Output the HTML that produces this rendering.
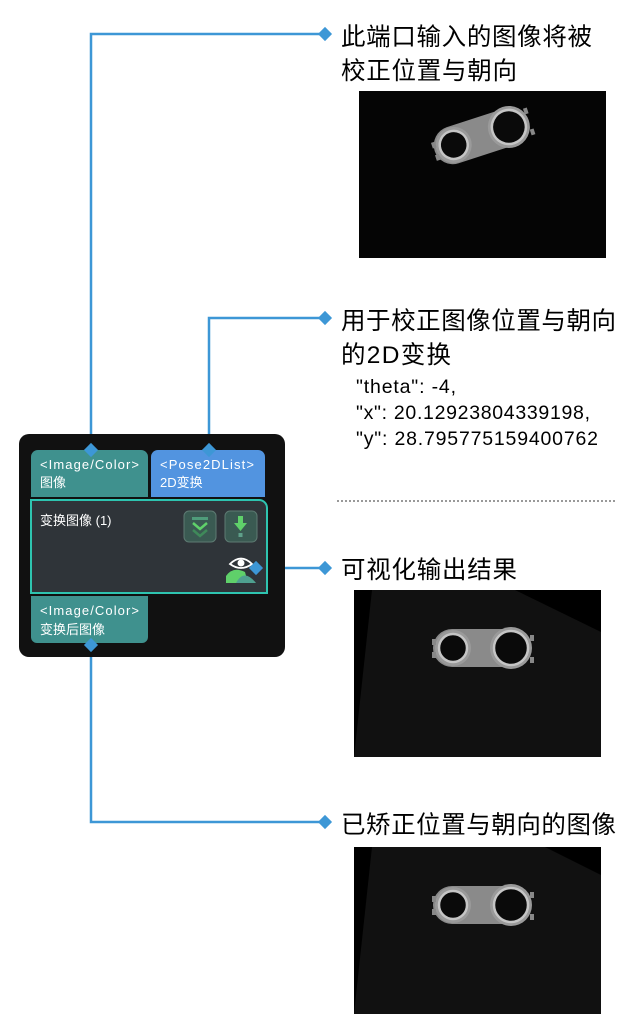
<!DOCTYPE html>
<html><head><meta charset="utf-8"><style>
body{margin:0;background:#fff;}
svg{display:block}
.h{font-family:"Liberation Sans","Noto Sans CJK SC",sans-serif;font-size:24.5px;fill:#000}
.j{font-family:"Liberation Sans","Noto Sans CJK SC",sans-serif;font-size:19.5px;fill:#000}
.p{font-family:"Liberation Sans","Noto Sans CJK SC",sans-serif;font-size:13px;fill:#fff}
</style></head><body>
<svg width="635" height="1035" viewBox="0 0 635 1035" xmlns="http://www.w3.org/2000/svg">
<defs>
<g id="part">
<path d="M-30,-18 L30,-18 A20,20 0 0 1 30,20 L-30,20 A19,19 0 0 1 -30,-18 Z" fill="#8a8a8a"/>
<circle cx="-29" cy="1" r="18" fill="#9a9a9a"/>
<circle cx="29" cy="1" r="21" fill="#9a9a9a"/>
<circle cx="-29" cy="1" r="14" fill="#0a0a0a" stroke="#c5c5c5" stroke-width="2.5"/>
<circle cx="29" cy="1" r="17" fill="#0a0a0a" stroke="#c5c5c5" stroke-width="2.5"/>
<rect x="-50" y="-8" width="4" height="6" fill="#888"/><rect x="-50" y="5" width="4" height="6" fill="#888"/>
<rect x="48" y="-12" width="4" height="6" fill="#888"/><rect x="48" y="10" width="4" height="6" fill="#888"/>
</g>
</defs>

<rect x="359" y="91" width="247" height="167" fill="#050505"/>
<use href="#part" transform="translate(481,135) rotate(-18)"/>
<rect x="354" y="590" width="247" height="167" fill="#000"/>
<polygon points="372,590 515,590 601,632 601,757 354,757" fill="#111"/>
<use href="#part" transform="translate(482,647)"/>
<rect x="354" y="847" width="247" height="167" fill="#000"/>
<polygon points="372,847 545,847 601,875 601,1014 354,1014" fill="#111"/>
<use href="#part" transform="translate(482,904)"/>

<g stroke="#3d97d6" stroke-width="2.5" fill="none">
<polyline points="91,450 91,34 325,34"/>
<polyline points="209,450 209,318 325,318"/>
<polyline points="258,568 325,568"/>
<polyline points="91,645 91,822 325,822"/>
</g>
<g fill="#3d97d6">
<rect x="320" y="29" width="10" height="10" transform="rotate(45 325 34)"/>
<rect x="320" y="313" width="10" height="10" transform="rotate(45 325 318)"/>
<rect x="320" y="563" width="10" height="10" transform="rotate(45 325 568)"/>
<rect x="320" y="817" width="10" height="10" transform="rotate(45 325 822)"/>
<rect x="86" y="445" width="10" height="10" transform="rotate(45 91 450)"/>
<rect x="204" y="445" width="10" height="10" transform="rotate(45 209 450)"/>
<rect x="86" y="640" width="10" height="10" transform="rotate(45 91 645)"/>
<rect x="251" y="563" width="10" height="10" transform="rotate(45 256 568)"/>
</g>

<rect x="19" y="434" width="266" height="223" rx="10" fill="#111"/>
<path d="M31,497 V457 a7,7 0 0 1 7,-7 H141 a7,7 0 0 1 7,7 V497 Z" fill="#3f918e"/>
<path d="M151,497 V457 a7,7 0 0 1 7,-7 H258 a7,7 0 0 1 7,7 V497 Z" fill="#5294e0"/>
<path d="M31,500 H259 a8,8 0 0 1 8,8 V593 H31 Z" fill="#2f3439" stroke="#2ec4b0" stroke-width="2"/>
<path d="M31,596 H148 V637 a6,6 0 0 1 -6,6 H37 a6,6 0 0 1 -6,-6 Z" fill="#3f918e"/>
<g fill="#3d97d6">
<rect x="86" y="445" width="10" height="10" transform="rotate(45 91 450)"/>
<rect x="204" y="445" width="10" height="10" transform="rotate(45 209 450)"/>
<rect x="86" y="640" width="10" height="10" transform="rotate(45 91 645)"/>
</g>
<text class="p" x="40" y="469" textLength="99">&lt;Image/Color&gt;</text>
<text class="p" x="40" y="487">图像</text>
<text class="p" x="160" y="469" textLength="94">&lt;Pose2DList&gt;</text>
<text class="p" x="160" y="487">2D变换</text>
<text class="p" x="40" y="525">变换图像 (1)</text>
<text class="p" x="40" y="615" textLength="99">&lt;Image/Color&gt;</text>
<text class="p" x="40" y="634">变换后图像</text>
<rect x="184" y="511" width="32" height="31" rx="5" fill="#3a5a52" stroke="#5d7a72"/>
<rect x="192" y="517" width="16" height="3" fill="#4f9c7a"/>
<polyline points="193,523 200,529 207,523" stroke="#5fd06a" stroke-width="2.5" fill="none"/>
<polyline points="193,530 200,536 207,530" stroke="#3f8a5a" stroke-width="2.5" fill="none"/>
<rect x="225" y="511" width="32" height="31" rx="5" fill="#3a5a52" stroke="#5d7a72"/>
<rect x="238" y="516" width="5" height="8" fill="#5fd06a"/>
<polygon points="234,523 247,523 240.5,531" fill="#5fd06a"/>
<rect x="238.5" y="533" width="4" height="4" fill="#5fa08a"/>
<path d="M230,564 Q241,553 252,564 Q241,572 230,564Z" fill="none" stroke="#fff" stroke-width="1.8"/>
<circle cx="241" cy="563" r="3.5" fill="#fff"/>
<path d="M226,583 V576 Q233,566 245,572 L248,583Z" fill="#5fd06a"/>
<path d="M236,583 Q244,568 256,583Z" fill="#4fa090"/>
<rect x="251" y="563" width="10" height="10" fill="#3d97d6" transform="rotate(45 256 568)"/>

<text class="h" x="341" y="45" textLength="251">此端口输入的图像将被</text>
<text class="h" x="341" y="79" textLength="176">校正位置与朝向</text>
<text class="h" x="341" y="329" textLength="275">用于校正图像位置与朝向</text>
<text class="h" x="341" y="363" textLength="110">的2D变换</text>
<text class="j" x="356" y="393" textLength="100">"theta": -4,</text>
<text class="j" x="356" y="419" textLength="234">"x": 20.12923804339198,</text>
<text class="j" x="356" y="445" textLength="242">"y": 28.795775159400762</text>
<line x1="337" y1="501" x2="617" y2="501" stroke="#333" stroke-width="1" stroke-dasharray="2,2"/>
<text class="h" x="341" y="578" textLength="176">可视化输出结果</text>
<text class="h" x="341" y="833" textLength="275">已矫正位置与朝向的图像</text>
</svg>
</body></html>
